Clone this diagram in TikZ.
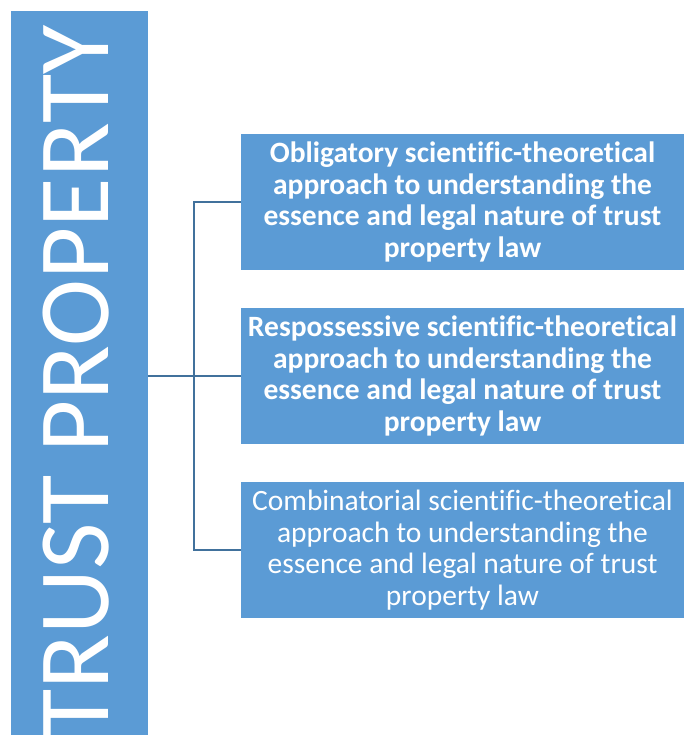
\documentclass[tikz,border=0pt]{standalone}
\usepackage{fontspec}
\setmainfont{Carlito}[Ligatures={NoCommon}]
\definecolor{boxblue}{HTML}{5B9BD5}
\definecolor{linkblue}{HTML}{41719C}
\begin{document}
\begin{tikzpicture}[x=1pt, y=-1pt,
        approachbox/.style={fill=boxblue, text=white, inner sep=0pt, minimum width=443pt, minimum height=136pt, align=center, font=\fontsize{29.5}{31.5}\selectfont},
        link/.style={draw=linkblue, line width=2pt}]
                \useasboundingbox (0,0) rectangle (684,735);
                \begin{scope}
                \clip (0,0) rectangle (684,735);
                \node[fill=boxblue, minimum width=137pt, minimum height=740pt, inner sep=0pt] (bar) at (79.5,381) {};
                \node[rotate=90, anchor=base east, text=white, font=\fontsize{101}{101}\selectfont] (title) at (108,22) {TRUST PROPERTY};
                \end{scope}
                \node[approachbox, font=\bfseries\fontsize{29.5}{31.5}\selectfont] (obligatory) at (462.5,202) {Obligatory scientific-theoretical\\approach to understanding the\\essence and legal nature of trust\\property law};
                \node[approachbox, font=\bfseries\fontsize{29.5}{31.5}\selectfont] (respossessive) at (462.5,376) {Respossessive scientific-theoretical\\approach to understanding the\\essence and legal nature of trust\\property law};
                \node[approachbox] (combinatorial) at (462.5,550) {Combinatorial scientific-theoretical\\approach to understanding the\\essence and legal nature of trust\\property law};
                \coordinate (hub) at (194,376);
                \draw[link] (bar.east |- respossessive.west) -- (respossessive.west);
                \draw[link] (obligatory.west) -- (hub |- obligatory.west) -- (hub |- combinatorial.west) -- (combinatorial.west);
            \end{tikzpicture}
\end{document}
